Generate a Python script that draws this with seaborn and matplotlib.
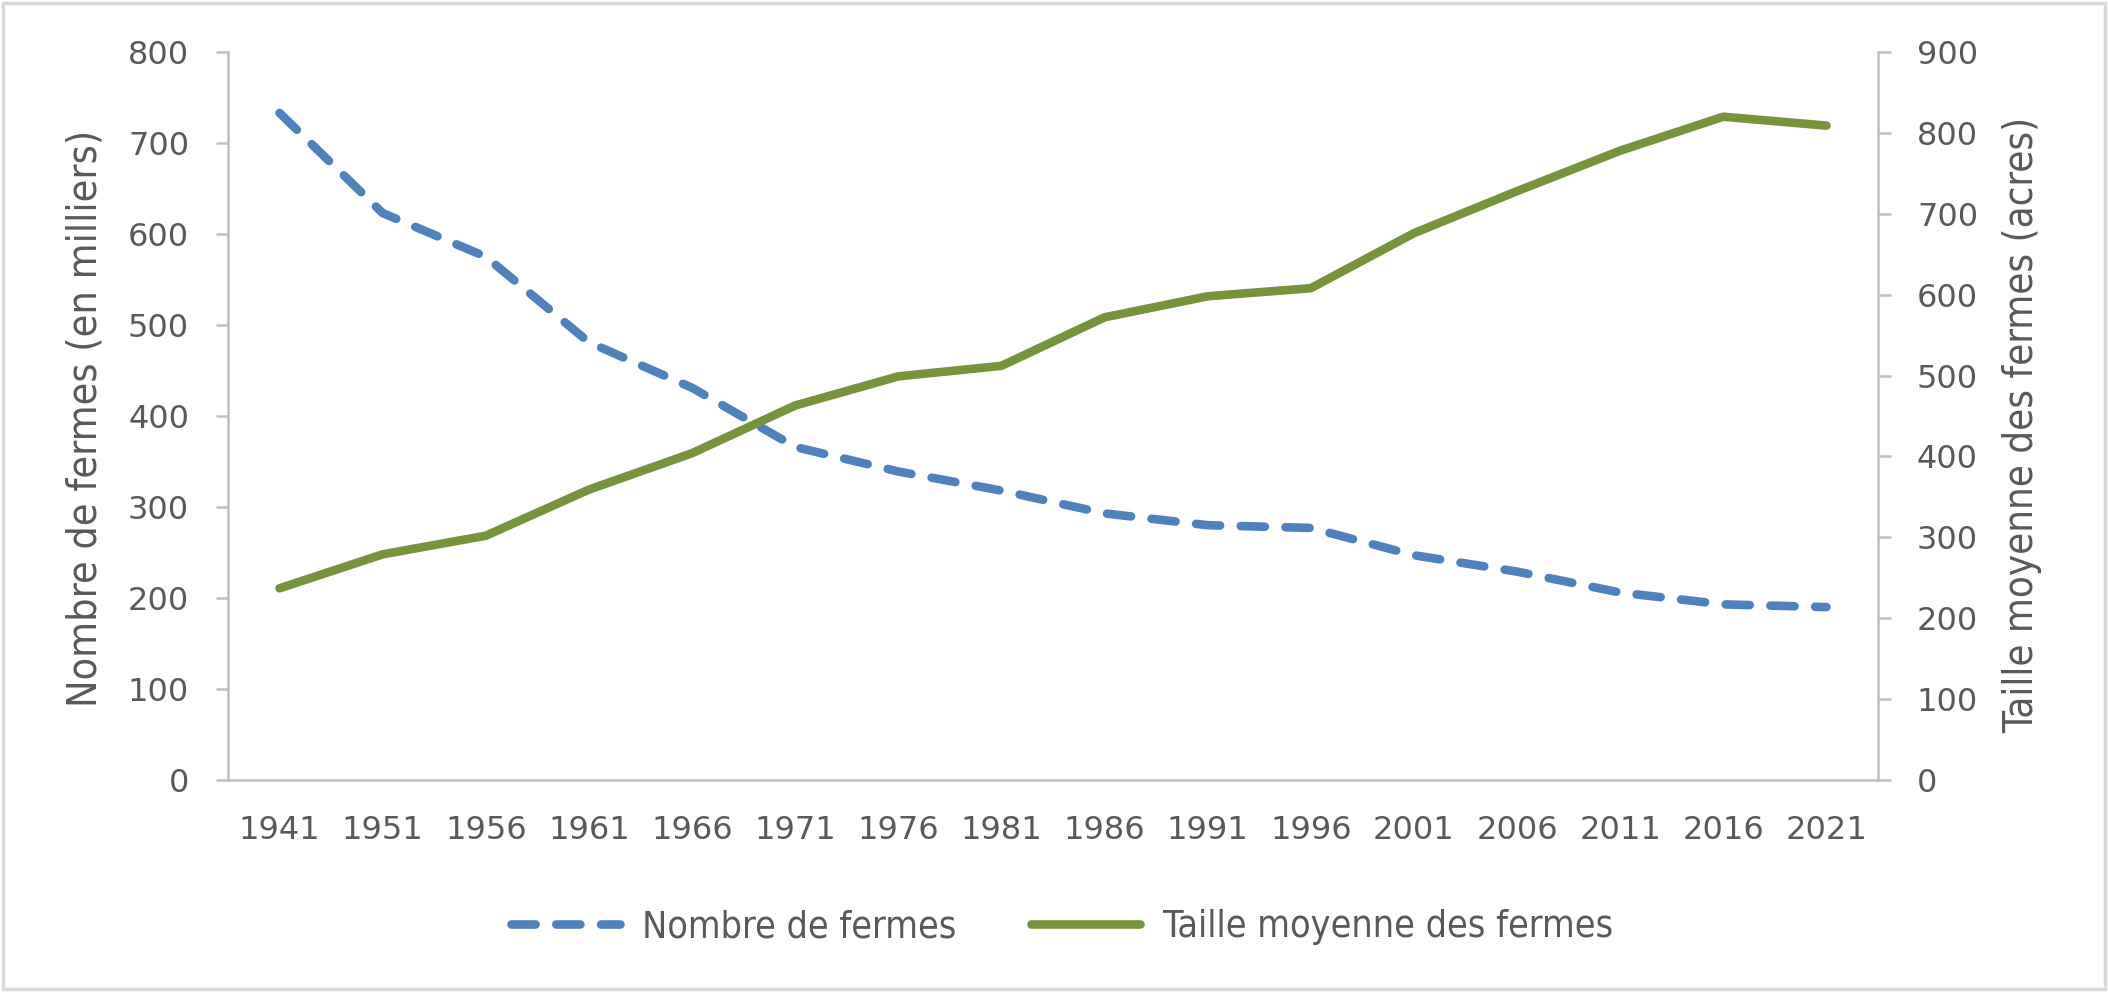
import matplotlib
matplotlib.use("Agg")
import matplotlib.pyplot as plt
import seaborn as sns
import pandas as pd
from matplotlib.patches import Rectangle

years = ["1941", "1951", "1956", "1961", "1966", "1971", "1976", "1981",
         "1986", "1991", "1996", "2001", "2006", "2011", "2016", "2021"]
nombre_fermes = [733, 623, 575, 481, 431, 366, 339, 318, 293, 280, 277, 247, 229, 206, 193, 190]
taille_moyenne = [237, 279, 302, 359, 404, 463, 499, 512, 572, 598, 608, 676, 728, 778, 820, 809]
label_left = "Nombre de fermes (en milliers)"
label_right = "Taille moyenne des fermes (acres)"
series_names = ["Nombre de fermes", "Taille moyenne des fermes"]

df = pd.DataFrame({"year": years, "n": nombre_fermes, "t": taille_moyenne})

sns.set_theme(style="white")
plt.rcParams['font.family'] = ['DejaVu Sans']

BLUE = "#4F81BD"
GREEN = "#77933C"
GRAY_TXT = "#595959"
GRAY_AX = "#BFBFBF"

fig = plt.figure(figsize=(21.08, 9.92), dpi=100)
ax = fig.add_axes([228/2108, 1-780/992, (1878-228)/2108, (780-52)/992])
ax2 = ax.twinx()

lw = 6.2
sns.lineplot(data=df, x="year", y="n", ax=ax, color=BLUE, linewidth=lw,
             linestyle=(0, (2.8, 2.4)), dash_capstyle='round', label=series_names[0], legend=False)
sns.lineplot(data=df, x="year", y="t", ax=ax2, color=GREEN, linewidth=lw,
             solid_capstyle='round', label=series_names[1], legend=False)

ax.set_xlim(-0.5, len(years) - 0.5)
ax.set_ylim(0, 800)
ax2.set_ylim(0, 900)
ax.set_yticks(range(0, 801, 100))
ax2.set_yticks(range(0, 901, 100))

for a in (ax, ax2):
    a.grid(False)
    a.set_facecolor("none")
    for s in a.spines.values():
        s.set_visible(False)
    a.set_xlabel("")

ax.spines['left'].set_visible(True)
ax.spines['bottom'].set_visible(True)
ax2.spines['right'].set_visible(True)
for s in (ax.spines['left'], ax.spines['bottom'], ax2.spines['right']):
    s.set_color(GRAY_AX)
    s.set_linewidth(1.8)

ax.tick_params(axis='y', which='major', left=True, length=9, width=1.8, color=GRAY_AX,
               labelsize=23, labelcolor=GRAY_TXT, pad=19)
ax2.tick_params(axis='y', which='major', right=True, length=9, width=1.8, color=GRAY_AX,
                labelsize=23, labelcolor=GRAY_TXT, pad=19)
ax.tick_params(axis='x', which='major', bottom=False, length=0, labelsize=23,
               labelcolor=GRAY_TXT, pad=25)

ax.set_ylabel(label_left, fontsize=29.5, color=GRAY_TXT, fontstretch='condensed')
ax2.set_ylabel(label_right, fontsize=28.8, color=GRAY_TXT, fontstretch='condensed')
ax.yaxis.set_label_coords((106 - 228) / 1650, (780 - 418) / 728)
ax2.yaxis.set_label_coords((2002 - 228) / 1650, (780 - 425) / 728)

h1, l1 = ax.get_legend_handles_labels()
h2, l2 = ax2.get_legend_handles_labels()
fig.legend(h1 + h2, l1 + l2, loc='center', bbox_to_anchor=(790*1.344/2108, 1-927/992),
           ncol=2, frameon=False, prop={'size': 27, 'stretch': 'condensed'},
           labelcolor=GRAY_TXT, handlelength=2.9, handletextpad=0.6, columnspacing=2.0)

fig.patches.append(Rectangle((0.0015, 0.003), 0.997, 0.994, transform=fig.transFigure,
                             fill=False, edgecolor="#D9D9D9", linewidth=2.5))

fig.savefig("out.png", dpi=100, facecolor="white")
